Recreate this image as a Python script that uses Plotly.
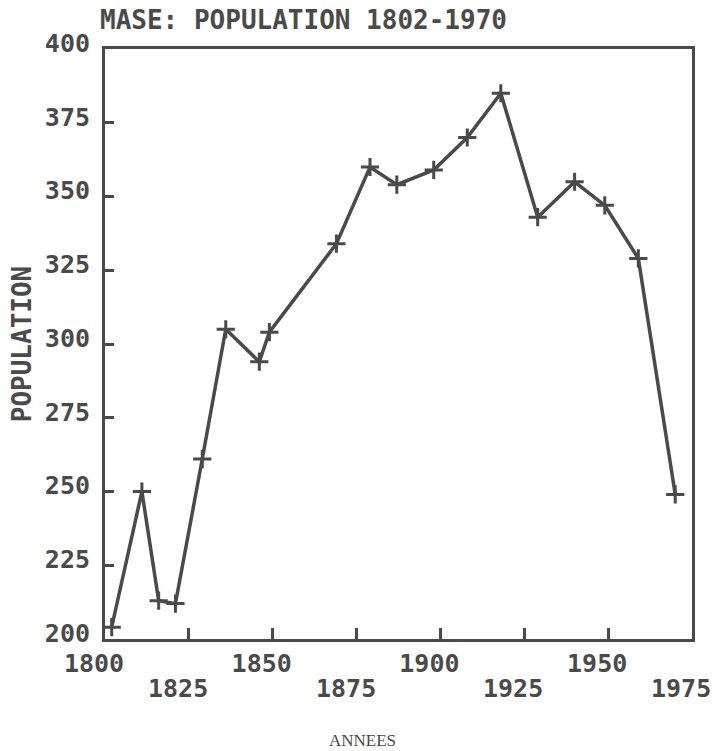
import plotly.graph_objects as go

# Data
years = [1802, 1811, 1816, 1821, 1829, 1836, 1846, 1849, 1869, 1879,
         1887, 1898, 1908, 1918, 1929, 1940, 1949, 1959, 1970]
population = [204, 250, 213, 212, 261, 305, 294, 304, 334, 360,
              354, 359, 370, 385, 343, 355, 347, 329, 249]

x_ticks = [1800, 1825, 1850, 1875, 1900, 1925, 1950, 1975]
y_ticks = [200, 225, 250, 275, 300, 325, 350, 375, 400]

title_text = "MASE: POPULATION 1802-1970"
x_title = "ANNEES"
y_title = "POPULATION"

INK = "#4a4a4a"
FONT = "DejaVu Sans Mono"

W, H = 716, 751
PLOT_H = 590

# first row of year labels on the axis, second (staggered) row as annotations
x_ticktext = [str(v) if i % 2 == 0 else "" for i, v in enumerate(x_ticks)]
row2_years = [v for i, v in enumerate(x_ticks) if i % 2 == 1]

fig = go.Figure()
fig.add_trace(go.Scatter(
    x=years, y=population, mode="lines+markers",
    line=dict(color=INK, width=3.5),
    marker=dict(symbol="cross-thin", size=13, line=dict(color=INK, width=3)),
    showlegend=False,
))

fig.update_layout(
    width=W, height=H,
    margin=dict(l=105, r=24, t=49, b=112),
    paper_bgcolor="white", plot_bgcolor="white",
    font=dict(family=FONT, color=INK),
    title=dict(text=title_text, x=100 / W, xref="container", xanchor="left",
               y=1 - 20 / H, yref="container", yanchor="middle",
               font=dict(family=FONT, size=26, color=INK, weight="bold")),
)

fig.update_xaxes(
    range=[1800, 1975], tickmode="array", tickvals=x_ticks, ticktext=x_ticktext,
    ticks="inside", ticklen=11, tickwidth=2.5, tickcolor=INK,
    showline=True, linewidth=3, linecolor=INK, mirror=True,
    showgrid=False, zeroline=False, automargin=False,
    tickfont=dict(family=FONT, size=25, color=INK, weight="bold"),
    ticklabelshift=-11, ticklabelstandoff=0,
)
fig.update_yaxes(
    range=[200, 400], tickmode="array", tickvals=y_ticks,
    ticks="inside", ticklen=9, tickwidth=2.5, tickcolor=INK,
    showline=True, linewidth=3, linecolor=INK, mirror=True,
    showgrid=False, zeroline=False, automargin=False,
    tickfont=dict(family=FONT, size=25, color=INK, weight="bold"),
    ticklabelshift=-6, ticklabelstandoff=7,
    title=dict(text=y_title, font=dict(family=FONT, size=26, color=INK, weight="bold"),
               standoff=6),
)

for yr in row2_years:
    fig.add_annotation(
        text=str(yr), xref="x", yref="paper", x=yr, y=-(688 - 639) / PLOT_H,
        xshift=-11, xanchor="center", yanchor="middle", showarrow=False,
        font=dict(family=FONT, size=25, color=INK, weight="bold"),
    )

fig.add_annotation(
    text=x_title, xref="paper", yref="paper",
    x=(362 - 105) / (692 - 105), y=-(740 - 639) / PLOT_H,
    xanchor="center", yanchor="middle", showarrow=False,
    font=dict(family="Liberation Serif", size=17, color=INK),
)

fig.write_html(
    "out.html",
    config={"displayModeBar": False},
    post_script="document.body.style.margin='0';document.body.style.overflow='hidden';",
)
